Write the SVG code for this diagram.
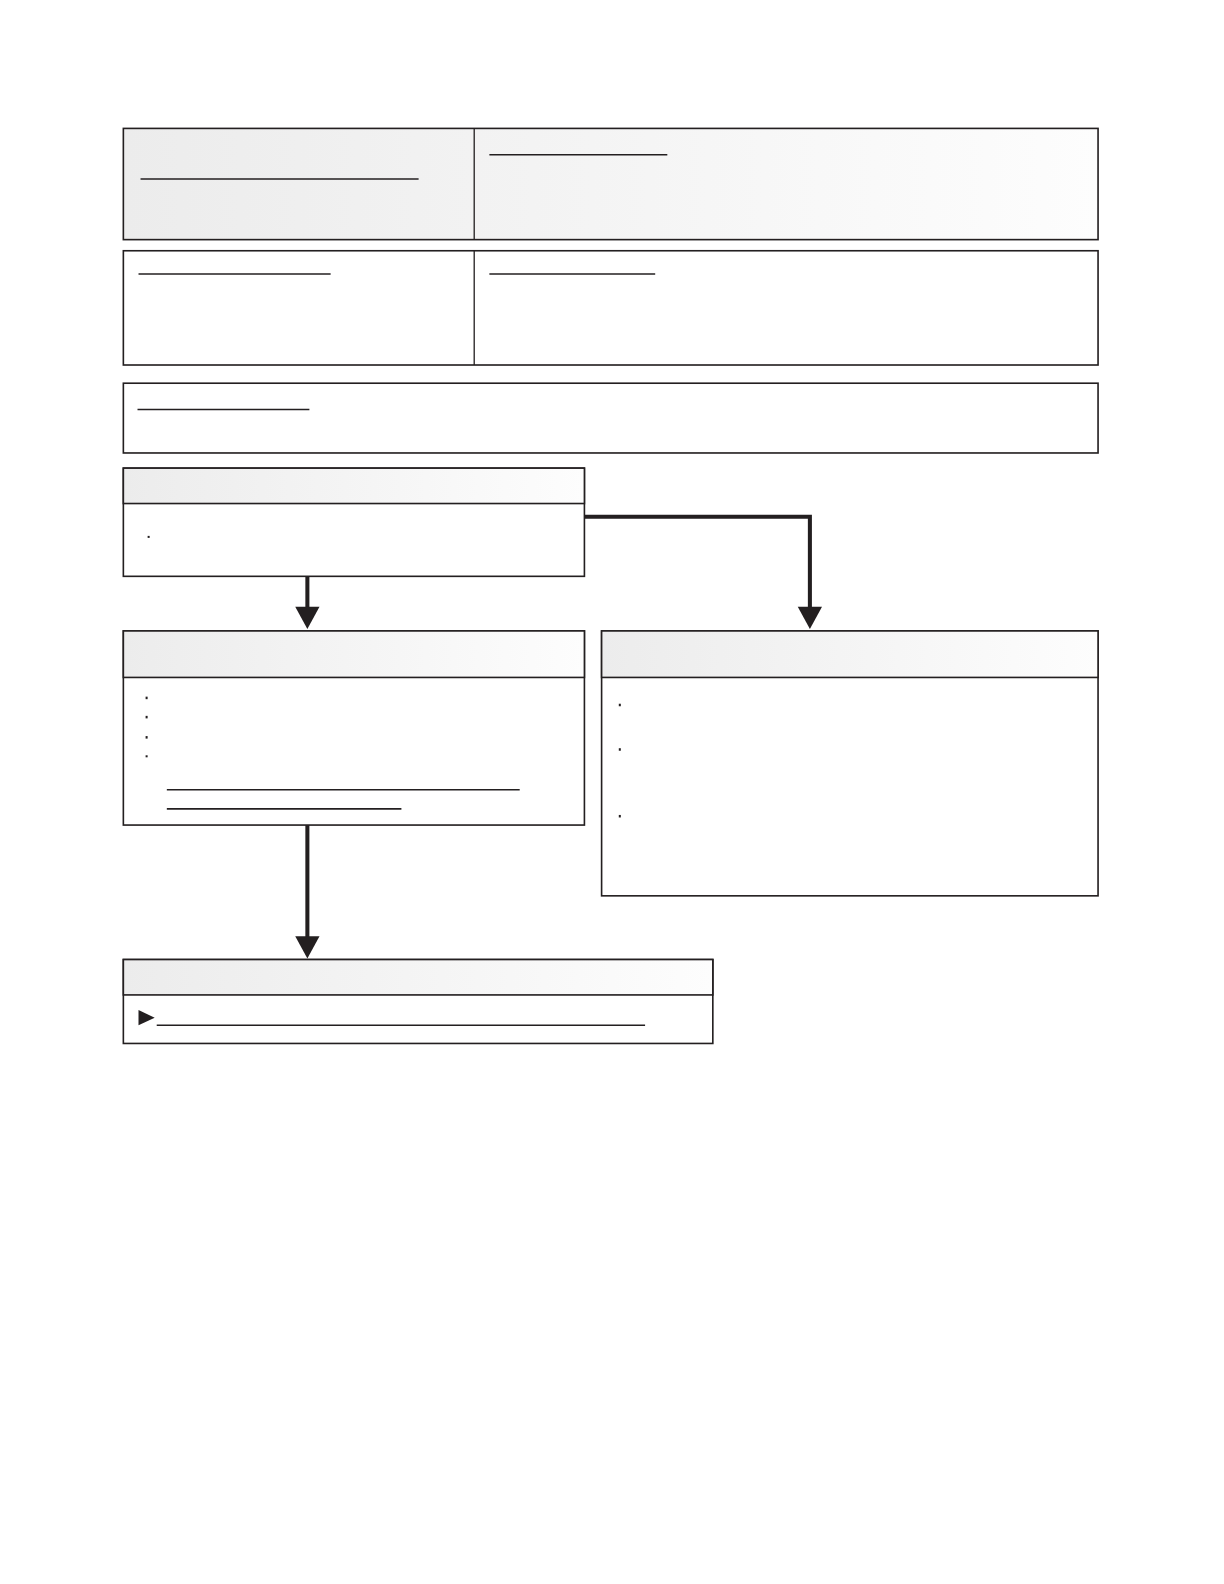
<svg xmlns="http://www.w3.org/2000/svg" width="1224" height="1584" viewBox="0 0 1224 1584">
<defs>
<linearGradient id="hg" x1="0" y1="0" x2="1" y2="0">
<stop offset="0" stop-color="#ececec"/>
<stop offset="0.6" stop-color="#f6f6f6"/>
<stop offset="1" stop-color="#fdfdfd"/>
</linearGradient>
</defs>
<style>
.box{fill:#fff;stroke:#231f20;stroke-width:1.6}
.hdr{fill:url(#hg);stroke:#231f20;stroke-width:1.6}
.div{stroke:#231f20;stroke-width:1.3;fill:none}
.ul{stroke:#231f20;stroke-width:1.5;fill:none}
.bul{fill:#231f20}
.conn{stroke:#231f20;stroke-width:4;fill:none}
.head{fill:#231f20}
</style>
<rect width="1224" height="1584" fill="#fff"/>
<g transform="scale(1.0111)">
<g id="connectors">
<path class="conn" d="M578,511 H801 V602"/>
<polygon class="head" points="789,600 813,600 801,622"/>
<path class="conn" d="M304,570 V602"/>
<polygon class="head" points="292,600 316,600 304,622"/>
<path class="conn" d="M304,816 V928"/>
<polygon class="head" points="292,926 316,926 304,948"/>
</g>
<g id="row1">
<rect class="hdr" x="122" y="127" width="964" height="110"/>
<line class="div" x1="469" y1="127" x2="469" y2="237"/>
<line class="ul" x1="139" y1="177" x2="414" y2="177"/>
<line class="ul" x1="484" y1="153" x2="660" y2="153" stroke-width="2.2"/>
</g>
<g id="row2">
<rect class="box" x="122" y="248" width="964" height="113"/>
<line class="div" x1="469" y1="248" x2="469" y2="361"/>
<line class="ul" x1="137" y1="271" x2="327" y2="271"/>
<line class="ul" x1="484" y1="271" x2="648" y2="271"/>
</g>
<g id="row3">
<rect class="box" x="122" y="379" width="964" height="69"/>
<line class="ul" x1="136" y1="405" x2="306" y2="405"/>
</g>
<g id="node-top">
<rect class="box" x="122" y="463" width="456" height="107"/>
<rect class="hdr" x="122" y="463" width="456" height="35"/>
<rect class="bul" x="146" y="530" width="2" height="2"/>
</g>
<g id="node-left">
<rect class="box" x="122" y="624" width="456" height="192"/>
<rect class="hdr" x="122" y="624" width="456" height="46"/>
<rect class="bul" x="144" y="689" width="2" height="2.5"/>
<rect class="bul" x="144" y="708" width="2" height="2.5"/>
<rect class="bul" x="144" y="728" width="2" height="2.5"/>
<rect class="bul" x="144" y="747" width="2" height="2"/>
<line class="ul" x1="165" y1="781" x2="514" y2="781"/>
<line class="ul" x1="165" y1="800" x2="397" y2="800"/>
</g>
<g id="node-right">
<rect class="box" x="595" y="624" width="491" height="262"/>
<rect class="hdr" x="595" y="624" width="491" height="46"/>
<rect class="bul" x="612" y="696" width="2" height="2.5"/>
<rect class="bul" x="612" y="740" width="2" height="2.5"/>
<rect class="bul" x="612" y="806" width="2" height="2.5"/>
</g>
<g id="node-bottom">
<rect class="box" x="122" y="949" width="583" height="83"/>
<rect class="hdr" x="122" y="949" width="583" height="35"/>
<path d="M137,999 L153,1006.5 L137,1014 Z" fill="#231f20"/>
<line class="ul" x1="155" y1="1014" x2="638" y2="1014"/>
</g>
</g>
</svg>
